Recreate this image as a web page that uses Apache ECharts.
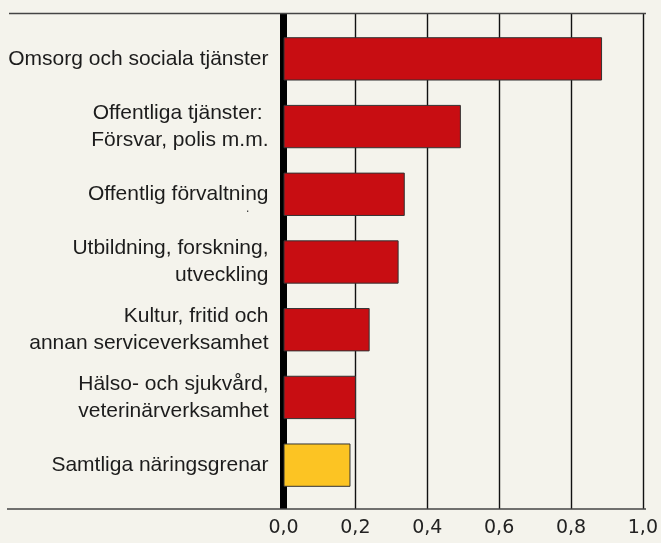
<!DOCTYPE html>
<html>
<head>
<meta charset="utf-8">
<script src="https://cdn.jsdelivr.net/npm/echarts@6/dist/echarts.min.js"></script>
<style>
  html, body { margin: 0; padding: 0; background: #f4f3ec; }
  #chart { width: 661px; height: 543px; }
</style>
</head>
<body>
<div id="chart"></div>
<script>
// branscher, uppifrån och ned
const categories = [
  'Omsorg och sociala tjänster',
  'Offentliga tjänster: \nFörsvar, polis m.m.',
  'Offentlig förvaltning',
  'Utbildning, forskning,\nutveckling',
  'Kultur, fritid och\nannan serviceverksamhet',
  'Hälso- och sjukvård,\nveterinärverksamhet',
  'Samtliga näringsgrenar'
]
const values = [0.88, 0.49, 0.335, 0.318, 0.238, 0.2, 0.185]
const xTicks = [0, 0.2, 0.4, 0.6, 0.8, 1.0]

const RED = '#c80d12'
const YELLOW = '#fcc423'

const chart = echarts.init(document.getElementById('chart'))

chart.setOption({
  backgroundColor: '#f4f3ec',
  animation: false,
  grid: [
    // ram + stödlinjer
    { left: 283.5, right: 15.5, top: 13.5, bottom: 34 },
    // staplar
    { left: 283.5, right: 15.5, top: 25, bottom: 44 }
  ],
  xAxis: [
    {
      gridIndex: 0,
      type: 'value',
      min: xTicks[0],
      max: xTicks[xTicks.length - 1],
      interval: 0.2,
      axisLine: { show: false },
      axisTick: { show: false },
      splitLine: { lineStyle: { color: '#111', width: 1.4 } },
      axisLabel: {
        margin: 10,
        fontFamily: 'DejaVu Sans',
        fontSize: 19,
        color: '#222',
        formatter: v => v.toFixed(1).replace('.', ',')
      }
    },
    { gridIndex: 1, type: 'value', min: 0, max: 1, show: false }
  ],
  yAxis: [
    {
      gridIndex: 0,
      type: 'value',
      min: 0,
      max: 1,
      axisLine: { show: true, lineStyle: { color: '#000', width: 7, cap: 'butt' } },
      axisTick: { show: false },
      axisLabel: { show: false },
      splitLine: { show: false }
    },
    {
      gridIndex: 1,
      type: 'category',
      inverse: true,
      data: categories,
      axisLine: { show: false },
      axisTick: { show: false },
      axisLabel: {
        margin: 15,
        fontFamily: 'Liberation Sans',
        fontSize: 21,
        lineHeight: 27,
        color: '#1c1c1c',
        align: 'right'
      }
    }
  ],
  graphic: [
    { type: 'line', shape: { x1: 9, y1: 13.5, x2: 646, y2: 13.5 }, style: { stroke: '#444', lineWidth: 1.5 }, z: 10 },
    { type: 'line', shape: { x1: 7, y1: 509, x2: 646, y2: 509 }, style: { stroke: '#444', lineWidth: 1.5 }, z: 10 },
    // lös punkt under "Offentlig förvaltning"
    { type: 'text', x: 246, y: 203, style: { text: '.', font: '12px Liberation Sans', fill: '#333' } }
  ],
  series: [
    {
      type: 'bar',
      xAxisIndex: 1,
      yAxisIndex: 1,
      barWidth: '64%',
      data: values.map((v, i) => ({
        value: v,
        itemStyle: { color: i === values.length - 1 ? YELLOW : RED }
      })),
      itemStyle: { borderColor: '#333', borderWidth: 1 },
      z: 5
    }
  ]
})
</script>
</body>
</html>
